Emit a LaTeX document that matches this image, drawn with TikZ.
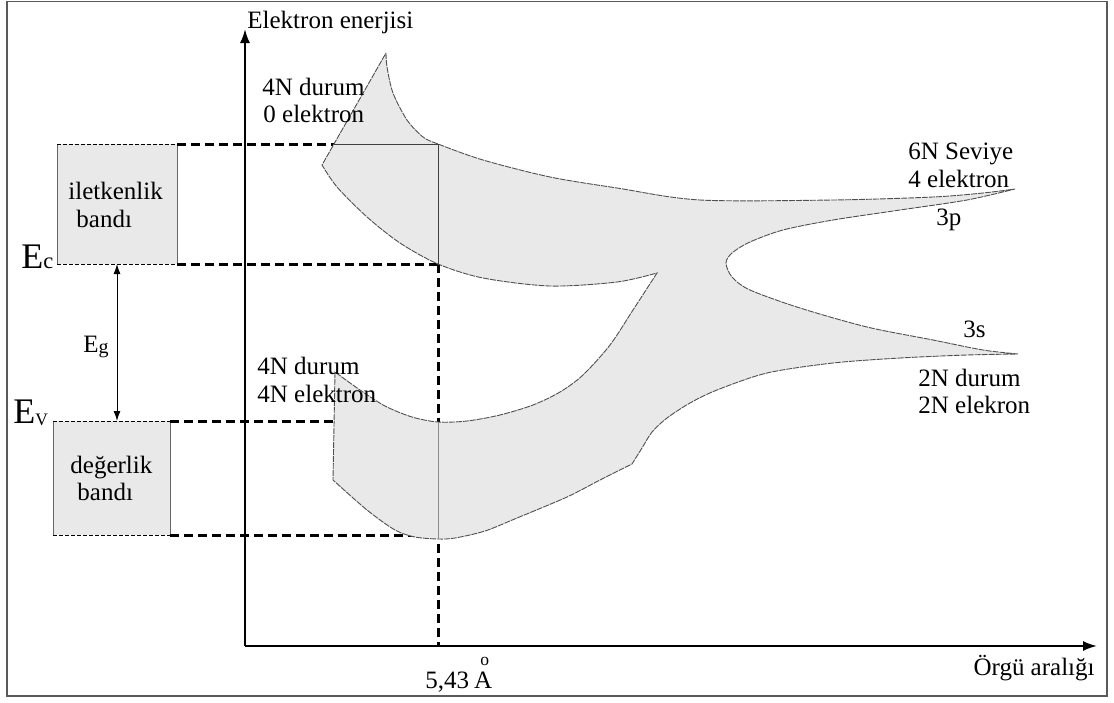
\documentclass[tikz,border=0pt]{standalone}
\usepackage{fontspec}
\setmainfont{Liberation Serif}[Scale=1.25]
\usetikzlibrary{arrows.meta}
\definecolor{bandfill}{RGB}{233,233,233}
\definecolor{edgegray}{RGB}{80,80,80}
\begin{document}
\begin{tikzpicture}[x=0.5pt,y=-0.5pt,
  lbl/.style={inner sep=0pt, anchor=base west, font=\normalsize},
  thickdash/.style={line width=1.5pt, dash pattern=on 4.5pt off 2.5pt},
  thindash/.style={line width=0.5pt, dash pattern=on 2pt off 1pt},
  bandedge/.style={line width=0.45pt, draw=edgegray, dash pattern=on 3pt off 0.5pt},
  axisline/.style={line width=1pt, -{Latex[length=7pt,width=5pt]}},
  innerline/.style={line width=0.5pt, draw=black!75},
  bandbox/.style={fill=bandfill},
]
\useasboundingbox (0,0) rectangle (1114,702);
\draw[line width=0.75pt, draw=black!65] (7,1.5) rectangle (1107,696);

% key coordinates
\coordinate (O) at (245,646);
\coordinate (ytip) at (245,29);
\coordinate (xtip) at (1097,646);
\coordinate (cbR1) at (177,144);
\coordinate (cbR2) at (177,264);
\coordinate (vbR1) at (170,421);
\coordinate (vbR2) at (170,535);
\coordinate (upL) at (334,144);
\coordinate (upC) at (438,144);
\coordinate (ecC) at (438,264);
\coordinate (evL) at (335,421);
\coordinate (vbE) at (430,535);
\coordinate (base) at (438,646);
\coordinate (egtop) at (117,264);
\coordinate (egbot) at (117,421);
\coordinate (lowT) at (438,422);
\coordinate (lowB) at (438,539);

% band boxes
\fill[bandbox] (57,144) rectangle (177,264);
\draw[line width=0.5pt, draw=black!60] (57,144) -- (57,264) (177,144) -- (177,264);
\draw[thindash] (57,144) -- (177,144) (57,264) -- (177,264);
\fill[bandbox] (53,421) rectangle (170,535);
\draw[line width=0.5pt, draw=black!60] (53,421) -- (53,535) (170,421) -- (170,535);
\draw[thindash] (53,421) -- (170,421) (53,535) -- (170,535);

% dashed guide lines
\draw[thickdash] (cbR1) -- (upL);
\draw[thickdash] (cbR2) -- (ecC);
\draw[thickdash] (ecC) -- (base);
\draw[thickdash] (vbR1) -- (evL);
\draw[thickdash] (vbR2) -- (vbE);

% axes
\draw[axisline] (O) -- (ytip);
\draw[axisline] (O) -- (xtip);

% energy bands
\filldraw[fill=bandfill, bandedge] (386,53)
 -- plot[smooth] coordinates {(386,53) (387,67) (393,93) (407,120) (423,137) (438,144) (483,160) (550,177) (617,188) (700,200) (833,200) (933,197) (983,193) (1015,189)}
 -- plot[smooth] coordinates {(1015,189) (967,200) (900,210) (833,220) (783,230) (750,242) (732,253) (726,263) (732,277) (750,290) (800,308) (867,327) (933,340) (983,350) (1018,354)}
 -- plot[smooth] coordinates {(1018,354) (967,355) (900,358) (833,363) (767,373) (717,390) (690,403) (667,418) (652,432) (642,448) (632,464)}
 -- plot[smooth] coordinates {(632,464) (600,480) (567,497) (517,518) (485,531) (455,538) (438,539) (415,537) (395,530) (367,510) (333,480)}
 -- (335,372)
 -- plot[smooth] coordinates {(335,372) (360,390) (385,406) (412,417) (438,422) (467,421) (500,415) (533,405) (560,392) (583,375) (610,345) (633,310) (657,273)}
 -- plot[smooth] coordinates {(657,273) (617,282) (550,286) (483,278) (438,264) (400,243) (367,217) (337,187) (322,165)}
 -- cycle;

\draw[innerline] (upL) -- (upC) -- (ecC);
\draw[line width=0.5pt, draw=black!45] (lowT) -- (lowB);

% gap arrow
\draw[line width=0.5pt, {Latex[length=5pt,width=3.5pt]}-{Latex[length=5pt,width=3.5pt]}] (egtop) -- (egbot);

% labels
\node[lbl] (ylab) at (247,28) {Elektron enerjisi};
\node[lbl, anchor=base east] (xlab) at (1095,675) {Örgü aralığı};
\node[lbl] (latt) at (425,688) {5,43\hspace{0.2em}\makebox[0pt][l]{\hspace{0.25em}\raisebox{0.92em}{\scriptsize o}}A};

\node[lbl] (c1) at (262,95) {4N durum};
\node[lbl] (c2) at (263,122) {0 elektron};
\node[lbl] (v1) at (257,374) {4N durum};
\node[lbl] (v2) at (257,402) {4N elektron};
\node[lbl] (p1) at (908,159) {6N Seviye};
\node[lbl] (p2) at (908,187) {4 elektron};
\node[lbl] (p3) at (936,225) {3p};
\node[lbl] (s3) at (963,337) {3s};
\node[lbl] (s1) at (918,386) {2N durum};
\node[lbl] (s2) at (918,413) {2N elekron};

\node[lbl] (cb1) at (68,199) {iletkenlik};
\node[lbl] (cb2) at (76,227) {bandı};
\node[lbl] (vb1) at (70,473) {değerlik};
\node[lbl] (vb2) at (77,500) {bandı};

\node[lbl] (ec) at (21,268) {\Large E\small c};
\node[lbl] (ev) at (13,423) {\Large E\scriptsize\raisebox{-1pt}{V}};
\node[lbl] (eg) at (83,352) {E\footnotesize\raisebox{-0.5pt}{g}};
\end{tikzpicture}
\end{document}
